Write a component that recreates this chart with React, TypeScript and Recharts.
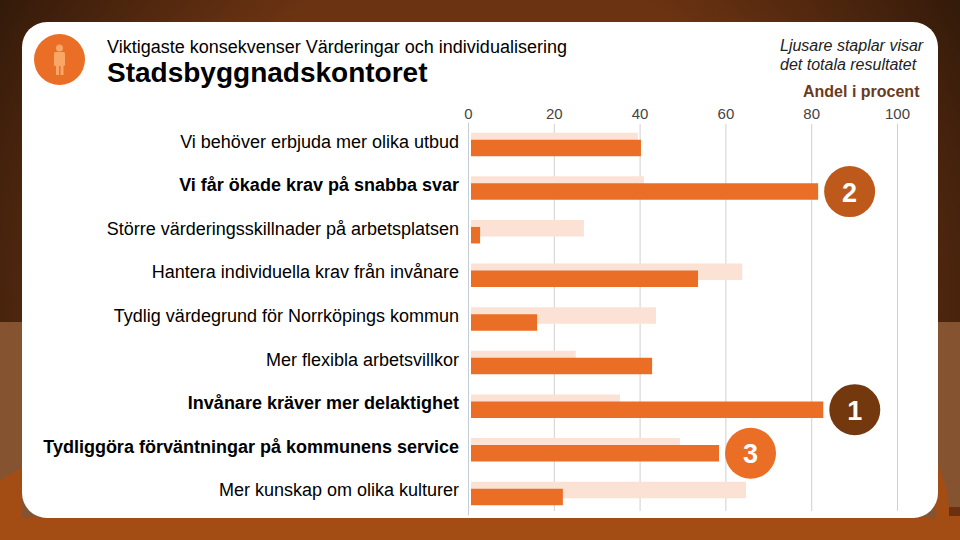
import { BarChart, Bar, XAxis, YAxis, CartesianGrid, LabelList, Rectangle } from "recharts";

const categories = [
  "Vi behöver erbjuda mer olika utbud",
  "Vi får ökade krav på snabba svar",
  "Större värderingsskillnader på arbetsplatsen",
  "Hantera individuella krav från invånare",
  "Tydlig värdegrund för Norrköpings kommun",
  "Mer flexibla arbetsvillkor",
  "Invånare kräver mer delaktighet",
  "Tydliggöra förväntningar på kommunens service",
  "Mer kunskap om olika kulturer",
];
const totalValues = [39.5, 40.9, 26.9, 63.8, 43.7, 25, 35.3, 49.3, 64.7];
const officeValues = [40.2, 81.5, 2.7, 53.5, 16, 42.8, 82.7, 58.4, 22];
const ranks = [0, 2, 0, 0, 0, 0, 1, 3, 0];
const xTicks = [0, 20, 40, 60, 80, 100];
const boldRows = [1, 6, 7];
const rankColors: Record<number, string> = { 1: "#73380e", 2: "#bd5a1b", 3: "#ea6e26" };

const rows = categories.map((name, i) => ({ name, total: totalValues[i], office: officeValues[i], rank: ranks[i] }));
const FONT = "'Liberation Sans', Arial, sans-serif";

// bars in the original start a little right of the axis line
function InsetBar(props: any) {
  return <Rectangle {...props} x={props.x + 2.5} width={Math.max(props.width - 2.5, 0)} />;
}

function CategoryTick({ x, y, payload, index }: any) {
  return (
    <text x={x} y={y - 3} dy={6} textAnchor="end" fontFamily={FONT} fill="#000"
      style={{ fontSize: 18 }}
      fontWeight={boldRows.includes(index) ? 700 : 400}>
      {payload.value}
    </text>
  );
}

function RankBadge({ x, y, width, height, value }: any) {
  if (!value) return null;
  const cx = x + width + 31.5;
  const cy = y + height / 2;
  return (
    <g>
      <circle cx={cx} cy={cy} r={25.5} fill={rankColors[value]} />
      <text x={cx} y={cy + 10} textAnchor="middle" fontSize={27} fontWeight={700} fontFamily={FONT} fill="#fff">{value}</text>
    </g>
  );
}

function Background() {
  return (
    <svg width={960} height={540} style={{ position: "absolute", left: 0, top: 0 }}>
      <defs>
        <radialGradient id="top" gradientUnits="userSpaceOnUse" cx={480} cy={300} r={566}>
          <stop offset="0.6" stopColor="#6b3312" />
          <stop offset="1" stopColor="#331a0a" />
        </radialGradient>
      </defs>
      <rect width={960} height={322} fill="url(#top)" />
      <rect y={322} width={960} height={218} fill="#85532f" />
      <path d="M0 480 L22 468 L22 540 L0 540 Z" fill="#a34d15" />
      <path d="M936 460 L947 490 L949 507 L960 507 L960 540 L936 540 Z" fill="#a34d15" />
      <rect x={949} y={507} width={11} height={9} fill="#6b3010" />
      <rect y={518} width={960} height={22} fill="#a34d15" />
      <rect x={22} y={22} width={916} height={496} rx={25} fill="#fff" />
    </svg>
  );
}

function PersonIcon() {
  return (
    <svg width={960} height={120} style={{ position: "absolute", left: 0, top: 0 }}>
      <circle cx={59.5} cy={59.5} r={25.5} fill="#ea6e26" />
      <circle cx={59.5} cy={48} r={3.5} fill="#f8a766" />
      <rect x={54} y={52} width={11} height={14} rx={1.5} fill="#f8a766" />
      <rect x={56} y={64} width={3} height={11} fill="#f8a766" />
      <rect x={60.5} y={64} width={3} height={11} fill="#f8a766" />
    </svg>
  );
}

export default function App() {
  return (
    <div style={{ position: "absolute", left: 0, top: 0, width: 960, height: 540, overflow: "hidden", fontFamily: FONT }}>
      <Background />
      <PersonIcon />
      <div style={{ position: "absolute", left: 107, top: 37, fontSize: 18, color: "#000", whiteSpace: "nowrap" }}>
        Viktigaste konsekvenser Värderingar och individualisering
      </div>
      <div style={{ position: "absolute", left: 107, top: 57, fontSize: 28, fontWeight: 700, color: "#000", whiteSpace: "nowrap" }}>
        Stadsbyggnadskontoret
      </div>
      <div style={{ position: "absolute", left: 780, top: 36, fontSize: 16, lineHeight: "19px", fontStyle: "italic", color: "#222", whiteSpace: "nowrap" }}>
        Ljusare staplar visar<br />det totala resultatet
      </div>
      <div style={{ position: "absolute", left: 803, top: 83, fontSize: 16, fontWeight: 700, color: "#6b3a1e", whiteSpace: "nowrap" }}>
        Andel i procent
      </div>
      <div style={{ position: "absolute", left: 0, top: 0 }}>
        <BarChart
          width={960}
          height={540}
          data={rows}
          layout="vertical"
          margin={{ top: 92.7, right: 62.5, bottom: 24.7, left: 0 }}
          barSize={16.5}
          barGap={-9.5}
        >
          <CartesianGrid horizontal={false} stroke="#d0d0d0" y={124} height={387} syncWithTicks />
          <XAxis
            type="number"
            orientation="top"
            domain={[0, 100]}
            ticks={xTicks}
            axisLine={false}
            tickLine={false}
            height={30}
            tickMargin={-2}
            tick={{ fontSize: 15, fill: "#444", fontFamily: FONT }}
          />
          <YAxis
            type="category"
            dataKey="name"
            width={468.5}
            interval={0}
            axisLine={{ stroke: "#c4ccd4", strokeWidth: 1 }}
            tickLine={false}
            tickMargin={0}
            tickSize={9.5}
            tick={<CategoryTick />}
          />
          <Bar dataKey="total" fill="#fbe2d4" isAnimationActive={false} shape={<InsetBar />} />
          <Bar dataKey="office" fill="#ea6e26" isAnimationActive={false} shape={<InsetBar />}>
            <LabelList dataKey="rank" content={<RankBadge />} />
          </Bar>
        </BarChart>
      </div>
    </div>
  );
}
